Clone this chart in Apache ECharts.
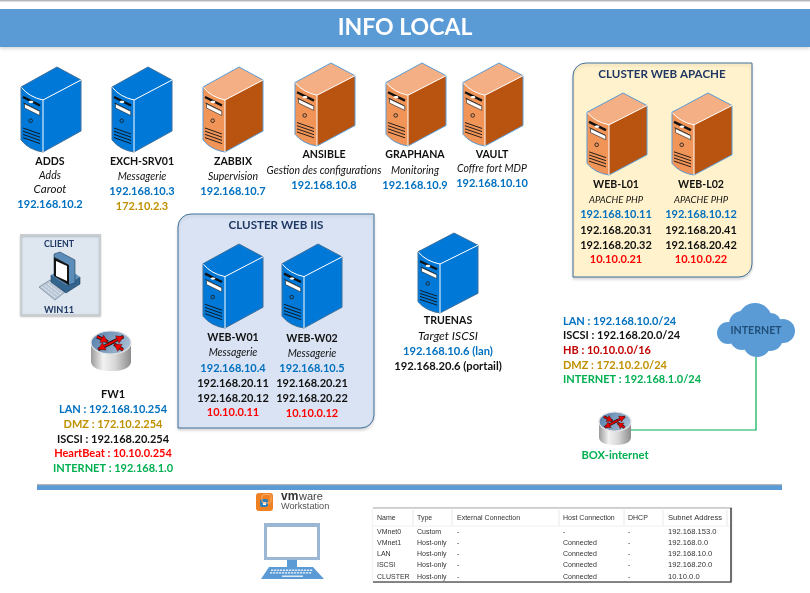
<!DOCTYPE html>
<html><head><meta charset="utf-8">
<style>html,body{margin:0;padding:0;background:#fff}#c{width:810px;height:593px}</style>
<script src="https://cdn.jsdelivr.net/npm/echarts@6/dist/echarts.min.js"></script>
</head><body><div id="c"></div>
<script>
// ---------- content ----------
const titleText = 'INFO LOCAL';
const topBlueNames = ['ADDS', 'EXCH-SRV01'];
const topOrangeNames = ['ZABBIX', 'ANSIBLE', 'GRAPHANA', 'VAULT'];
const topRoles = ['Adds', 'Messagerie', 'Supervision', 'Gestion des configurations', 'Monitoring', 'Coffre fort MDP'];
const topLan = ['192.168.10.2', '192.168.10.3', '192.168.10.7', '192.168.10.8', '192.168.10.9', '192.168.10.10'];
const caText = 'Caroot';
const exchDmz = '172.10.2.3';
const apacheTitle = 'CLUSTER WEB APACHE';
const apacheNames = ['WEB-L01', 'WEB-L02'];
const apacheRole = 'APACHE PHP';
const apacheLan = ['192.168.10.11', '192.168.10.12'];
const apacheIscsiA = ['192.168.20.31', '192.168.20.41'];
const apacheIscsiB = ['192.168.20.32', '192.168.20.42'];
const apacheHb = ['10.10.0.21', '10.10.0.22'];
const iisTitle = 'CLUSTER WEB IIS';
const iisNames = ['WEB-W01', 'WEB-W02'];
const iisRole = 'Messagerie';
const iisLan = ['192.168.10.4', '192.168.10.5'];
const iisIscsiA = ['192.168.20.11', '192.168.20.21'];
const iisIscsiB = ['192.168.20.12', '192.168.20.22'];
const iisHb = ['10.10.0.11', '10.10.0.12'];
const nasLines = ['TRUENAS', 'Target ISCSI', '192.168.10.6 (lan)', '192.168.20.6 (portail)'];
const clientLines = ['CLIENT', 'WIN11'];
const fwLines = ['FW1', 'LAN : 192.168.10.254', 'DMZ : 172.10.2.254', 'ISCSI : 192.168.20.254', 'HeartBeat : 10.10.0.254', 'INTERNET : 192.168.1.0'];
const legendLines = ['LAN : 192.168.10.0/24', 'ISCSI : 192.168.20.0/24', 'HB : 10.10.0.0/16', 'DMZ : 172.10.2.0/24', 'INTERNET : 192.168.1.0/24'];
const cloudText = 'INTERNET';
const boxText = 'BOX-internet';
const vmLogoLines = ['vm', 'ware', 'Workstation'];
const vmHeaders = ['Name', 'Type', 'External Connection', 'Host Connection', 'DHCP', 'Subnet Address'];
const vmNames = ['VMnet0', 'VMnet1', 'LAN', 'ISCSI', 'CLUSTER'];
const vmTypes = ['Custom', 'Host-only', 'Host-only', 'Host-only', 'Host-only'];
const vmExternal = ['-', '-', '-', '-', '-'];
const vmHost = ['-', 'Connected', 'Connected', 'Connected', 'Connected'];
const vmDhcp = ['-', '-', '-', '-', '-'];
const vmSubnets = ['192.168.153.0', '192.168.0.0', '192.168.10.0', '192.168.20.0', '10.10.0.0'];

// ---------- layout ----------
const C = {blue:'#0070C0', gold:'#BF9000', red:'#FF0000', dark:'#C00000', green:'#00B050', navy:'#1F3864', black:'#111', white:'#fff', grey:'#333'};
const F = 'Lato, Carlito, sans-serif';
const labels = [];
function put(text, x, y, color, o) {
  o = o || {};
  labels.push({text, x, y, color: color || C.black, size: o.size || 11, weight: o.weight || 'bold', italic: !!o.italic, align: o.align || 'center', family: o.family || F});
}
const nm = {size: 10.6};
const it = {italic: true, weight: 'normal', size: 10.5};

put(titleText, 405, 28, C.white, {size: 23});

const topX = [50, 142, 233, 324, 415, 492];
const topNameY = [162, 162, 162, 155, 155, 155];
const topRoleY = [175.5, 176.5, 176.5, 171, 171, 169];
const topLanY = [204, 191, 191, 185, 185, 183];
topBlueNames.concat(topOrangeNames).forEach((n, i) => {
  put(n, topX[i], topNameY[i], C.black, nm);
  put(topRoles[i], topX[i], topRoleY[i], C.black, it);
  put(topLan[i], topX[i], topLanY[i], C.blue);
});
put(caText, 50, 189, C.black, {italic: true, weight: 'normal', size: 11.6});
put(exchDmz, 142, 206, C.gold);

put(apacheTitle, 662, 74, C.navy, {size: 11.6});
[616, 701].forEach((x, i) => {
  put(apacheNames[i], x, 185, C.black, nm);
  put(apacheRole, x, 200, C.black, {italic: true, weight: 'normal', size: 9.5});
  put(apacheLan[i], x, 214, C.blue);
  put(apacheIscsiA[i], x, 230, C.black);
  put(apacheIscsiB[i], x, 245, C.black);
  put(apacheHb[i], x, 259, C.red);
});
put(iisTitle, 276, 225, C.navy, {size: 11.6});
[233, 312].forEach((x, i) => {
  const d = i;
  put(iisNames[i], x, 338 + d, C.black, nm);
  put(iisRole, x, 353 + d, C.black, it);
  put(iisLan[i], x, 368, C.blue);
  put(iisIscsiA[i], x, 383, C.black);
  put(iisIscsiB[i], x, 398, C.black);
  put(iisHb[i], x, 412 + d, C.red);
});
put(nasLines[0], 448, 321, C.black, nm);
put(nasLines[1], 448, 336, C.black, Object.assign({}, it, {size: 12}));
put(nasLines[2], 448, 351, C.blue, {size: 11.2});
put(nasLines[3], 448, 366, C.black, {size: 11.2});

put(clientLines[0], 59, 244, C.navy, {size: 8.8});
put(clientLines[1], 59, 310, C.navy, {size: 9.2});

const fwColors = [C.black, C.blue, C.gold, C.black, C.red, C.green];
const fwY = [394, 409, 424, 439, 453, 468];
fwLines.forEach((t, i) => put(t, 113, fwY[i], fwColors[i]));

const legendColors = [C.blue, C.black, C.dark, C.gold, C.green];
const legendY = [321, 335, 350, 365, 379];
legendLines.forEach((t, i) => put(t, 563, legendY[i], legendColors[i], {align: 'left'}));

put(cloudText, 756, 331, '#1F4E79', {size: 10.6});
put(boxText, 615, 455, C.green, {size: 11.2});

put(vmLogoLines[0], 281, 497, '#333', {align: 'left', size: 12, family: 'Liberation Sans'});
put(vmLogoLines[1], 299, 497, '#444', {align: 'left', size: 11, weight: 'normal', family: 'Liberation Sans'});
put(vmLogoLines[2], 281, 506, '#555', {align: 'left', size: 9.2, weight: 'normal', family: 'Liberation Sans'});

const colX = [377, 417, 457, 563, 628, 668];
const rowY = [532, 543, 554, 565, 577];
const tbl = {align: 'left', size: 7, weight: 'normal', family: 'Liberation Sans'};
const tblWide = Object.assign({}, tbl, {size: 7.6});
vmHeaders.forEach((t, i) => put(t, colX[i], 518, C.grey, i === 5 ? tblWide : tbl));
[vmNames, vmTypes, vmExternal, vmHost, vmDhcp, vmSubnets].forEach((col, c) => {
  col.forEach((t, r) => put(t, colX[c], rowY[r], C.grey, c === 5 ? tblWide : tbl));
});

// server icons: left, top, scale-y, palette
const PAL = {
  b: {top:'#0078D7', front:'#0078D7', side:'#0078D7', edge:'#41719C'},
  o: {top:'#F4AF84', front:'#F09458', side:'#B85410', edge:'#5B9BD5'}
};
const serverX = [21, 112, 203, 295, 386, 463, 587, 672, 203, 282, 418];
const serverY = [67, 67, 67, 63, 63, 63, 93, 93, 244, 244, 233];
const serverH = [85, 85, 85, 83, 83, 83, 82, 82, 84, 84, 80];
const serverP = ['b', 'b', 'o', 'o', 'o', 'o', 'o', 'o', 'b', 'b', 'b'];

const routerX = [91, 599];
const routerY = [331, 412];
const routerW = [40, 32];
const routerH = [40, 33];

// ---------- renderers ----------
function panelsRender(params, api) {
  const pt = (x, y) => api.coord([x, y]);
  const rect = (x0, y0, x1, y1, style, r) => {
    const a = pt(x0, y0), b = pt(x1, y1);
    return {type: 'rect', shape: {x: a[0], y: a[1], width: b[0] - a[0], height: b[1] - a[1], r: r || 0}, style};
  };
  const line = (pts, stroke, w) => ({type: 'polyline', shape: {points: pts.map(p => pt(p[0], p[1]))}, style: {stroke, lineWidth: w, fill: null}});
  const ch = [];
  const sh = {shadowBlur: 3, shadowColor: 'rgba(0,0,0,.15)', shadowOffsetY: 2};
  ch.push(rect(0, 0, 810, 1.5, {fill: '#B4B8BC'}));
  ch.push(rect(0, 9, 810, 47, Object.assign({fill: '#5B9BD5'}, sh)));
  ch.push(rect(573, 63, 752, 277, Object.assign({fill: '#FFF2CC', stroke: '#41719C', lineWidth: 1}, sh), [13, 0, 13, 0]));
  ch.push(rect(178, 214, 374, 428, Object.assign({fill: '#DAE3F3', stroke: '#41719C', lineWidth: 1}, sh), [13, 0, 13, 0]));
  ch.push(rect(21, 235, 100, 315, {fill: '#DEE7F0', stroke: '#C8CDD1', lineWidth: 2, shadowBlur: 2, shadowColor: 'rgba(0,0,0,.2)', shadowOffsetY: 1}));
  // green link
  ch.push(line([[756, 357], [756, 430], [631, 430]], C.green, 1.2));
  // separator
  ch.push(rect(37, 484, 782, 490, {fill: '#5B9BD5'}));
  ch.push(rect(37, 484, 782, 485.3, {fill: '#B0B4B8'}));
  // table frame
  ch.push(rect(373, 508, 732, 582, {fill: '#fff', shadowBlur: 2, shadowColor: 'rgba(0,0,0,.15)'}));
  ch.push(line([[373, 508], [732, 508]], '#A9A9A9', 1));
  ch.push(line([[731, 508], [731, 582], [373, 582]], '#111', 1.2));
  ch.push(line([[373, 526], [730, 526]], '#F0F0F0', 1));
  [413, 452, 559, 624, 663, 727].forEach(x => ch.push(line([[x, 510], [x, 526]], '#E8E8E8', 1)));
  // cloud
  [[728, 333, 11], [742, 324, 13], [755, 320, 17], [771, 323, 10], [783, 331, 12], [770, 338, 13], [757, 343, 14], [742, 338, 12]].forEach(c => {
    const p = pt(c[0], c[1]);
    ch.push({type: 'circle', shape: {cx: p[0], cy: p[1], r: c[2]}, style: {fill: '#5B9BD5'}});
  });
  // vmware logo
  ch.push(rect(256, 493, 273, 511, {fill: '#F08122'}, 3));
  ch.push(rect(260, 499, 268, 507, {fill: '#2C7FB8'}, 2));
  ch.push(rect(263, 502, 266, 505, {fill: '#fff'}));
  ch.push(rect(262, 494.5, 271, 503, {stroke: '#F8B06C', lineWidth: 1, fill: null}, 2));
  // host computer
  ch.push(rect(264, 523, 320, 560, {fill: '#9AB8D3'}));
  ch.push(rect(267, 527, 317, 557, {fill: '#fff'}));
  ch.push(rect(287, 560, 297, 567, {fill: '#5B9BD5'}));
  const kb = [[269, 567], [313, 567], [324, 579], [261, 579]].map(p => pt(p[0], p[1]));
  ch.push({type: 'polygon', shape: {points: kb}, style: {fill: '#5B9BD5'}});
  for (let r = 0; r < 2; r++) {
    for (let k = 0; k < 14; k++) {
      const a = pt(271 + k * 3 - r, 569.5 + r * 2.6);
      ch.push({type: 'rect', shape: {x: a[0], y: a[1], width: 2.2, height: 1.5}, style: {fill: '#DCE9F5'}});
    }
  }
  ch.push(rect(282, 575.5, 303, 577, {fill: '#DCE9F5'}));
  // client workstation
  const o = (x, y) => pt(30 + x, 245 + y);
  const poly = (pts, fill, stroke) => ({type: 'polygon', shape: {points: pts.map(p => o(p[0], p[1]))}, style: {fill, stroke: stroke || null, lineWidth: 0.6}});
  ch.push(poly([[9, 42], [20, 35], [35, 47], [25, 55]], '#B9C7D6', '#5A7188'));
  for (let r = 0; r < 3; r++) {
    ch.push({type: 'line', shape: {x1: o(12 + r * 3, 42 + r * -1.5)[0], y1: o(12 + r * 3, 42 - r * 1.5)[1], x2: o(25 + r * 3, 52 - r * 1.5)[0], y2: o(25 + r * 3, 52 - r * 1.5)[1]}, style: {stroke: '#F2F5F8', lineWidth: 0.9, lineDash: [1.2, 0.7]}});
  }
  ch.push(poly([[21, 30], [36, 40], [50, 32], [50, 39], [36, 48], [21, 37]], '#34658F', '#1C3D5A'));
  ch.push(poly([[21, 30], [36, 22], [50, 32], [36, 40]], '#5F93BF'));
  ch.push(poly([[24, 9], [30, 7], [45, 15], [45, 38], [38, 40], [24, 31]], '#5B8DB8', '#1C3D5A'));
  ch.push(poly([[24, 12], [39, 20], [39, 40], [24, 31]], '#141414'));
  ch.push(poly([[26, 16], [37, 21], [37, 36], [26, 31]], '#FFFFFF'));
  return {type: 'group', children: ch};
}

function serverRender(params, api) {
  const i = api.value(0);
  const L = serverX[i], T = serverY[i], sy = serverH[i] / 85, sx = 1;
  const pal = PAL[serverP[i]];
  const P = (x, y) => { const c = api.coord([L + x * sx, T + y * sy]); return c[0] + ' ' + c[1]; };
  const Q = (x, y) => api.coord([L + x * sx, T + y * sy]);
  const path = (d, style) => ({type: 'path', shape: {pathData: d}, style});
  const stroke = (pts, c, w) => ({type: 'polyline', shape: {points: pts.map(p => Q(p[0], p[1]))}, style: {stroke: c, lineWidth: w, fill: null}});
  const ch = [
    path(`M${P(0, 20)} L${P(36, 0)} L${P(60, 13)} L${P(22, 33)} Q${P(8, 30)} ${P(0, 20)} Z`, {fill: pal.top}),
    path(`M${P(60, 13)} L${P(60, 64)} L${P(22, 85)} L${P(22, 33)} Z`, {fill: pal.side}),
    path(`M${P(0, 20)} Q${P(8, 30)} ${P(22, 33)} L${P(22, 85)} Q${P(8, 83)} ${P(0, 73)} Z`, {fill: pal.front}),
    path(`M${P(0, 20)} L${P(36, 0)} L${P(60, 13)} L${P(60, 64)} L${P(22, 85)} Q${P(8, 83)} ${P(0, 73)} Z`, {fill: null, stroke: pal.edge, lineWidth: 1}),
    path(`M${P(0.5, 20.5)} Q${P(8, 30)} ${P(22, 33)} L${P(60, 13)} M${P(22, 33)} L${P(22, 85)}`, {fill: null, stroke: '#fff', lineWidth: 1}),
    stroke([[2, 30], [19, 38.5]], '#111', 2.4),
    stroke([[2.5, 36], [18.5, 44]], '#111', 0.9),
    path(`M${P(3.5, 36.8)} L${P(18.7, 44.3)} L${P(18.7, 48.5)} L${P(3.5, 41)} Z`, {fill: '#fff', stroke: '#222', lineWidth: 0.6})
  ];
  const e = Q(10, 35);
  ch.push({type: 'ellipse', shape: {cx: e[0], cy: e[1], rx: 2.4, ry: 1.2}, style: {fill: '#fff'}});
  const c = Q(9.7, 53.7);
  ch.push({type: 'circle', shape: {cx: c[0], cy: c[1], r: 1.8}, style: {fill: pal.front, stroke: '#222', lineWidth: 0.9}});
  for (let v = 0; v < 4; v++) ch.push(stroke([[2, 61 + v * 3.2], [19, 67 + v * 3.2]], '#111', 0.9));
  return {type: 'group', children: ch};
}

function routerRender(params, api) {
  const i = api.value(0);
  const x = routerX[i], y = routerY[i], w = routerW[i], h = routerH[i];
  const k = 0.29;
  const c = (u, v) => api.coord([x + u * w, y + v * h]);
  const s = (u, v) => { const p = c(u, v); return p[0] + ' ' + p[1]; };
  const center = c(0.5, k);
  const rx = w / 2, ry = h * k;
  const body = {type: 'path', shape: {pathData: `M${s(0, k)} L${s(0, 0.78)} Q${s(0.04, 1)} ${s(0.5, 1)} Q${s(0.96, 1)} ${s(1, 0.78)} L${s(1, k)} Z`},
    style: {fill: {type: 'linear', x: 0, y: 0, x2: 1, y2: 0, colorStops: [{offset: 0, color: '#9A9A9A'}, {offset: 0.3, color: '#F2F2F2'}, {offset: 0.6, color: '#D8D8D8'}, {offset: 1, color: '#8C8C8C'}]}}};
  const top = {type: 'ellipse', shape: {cx: center[0], cy: center[1], rx, ry}, style: {
    fill: {type: 'linear', x: 0, y: 0, x2: 1, y2: 1, colorStops: [{offset: 0, color: '#4E7AA8'}, {offset: 1, color: '#B5C8DB'}]}, stroke: '#E4E4E4', lineWidth: 1.2}};
  const ch = [body, top];
  const arrow = (u1, v1, u2, v2) => {
    const a = c(u1, v1), b = c(u2, v2);
    const ang = Math.atan2(b[1] - a[1], b[0] - a[0]), l = w * 0.2;
    const wing = d => [b[0] - l * Math.cos(ang + d), b[1] - l * Math.sin(ang + d)];
    return [
      {type: 'line', shape: {x1: a[0], y1: a[1], x2: b[0], y2: b[1]}, style: {stroke: '#111', lineWidth: w * 0.085}},
      {type: 'line', shape: {x1: a[0], y1: a[1], x2: b[0], y2: b[1]}, style: {stroke: '#EE0000', lineWidth: w * 0.05}},
      {type: 'polygon', shape: {points: [b, wing(0.55), wing(-0.55)]}, style: {fill: '#EE0000', stroke: '#222', lineWidth: 0.4}}
    ];
  };
  ch.push.apply(ch, arrow(0.42, 0.33, 0.81, 0.14));
  ch.push.apply(ch, arrow(0.58, 0.26, 0.18, 0.46));
  ch.push.apply(ch, arrow(0.15, 0.14, 0.42, 0.27));
  ch.push.apply(ch, arrow(0.8, 0.47, 0.58, 0.33));
  return {type: 'group', children: ch};
}

function textRender(params, api) {
  const l = labels[api.value(0)];
  const p = api.coord([l.x, l.y]);
  return {type: 'text', style: {
    text: l.text, x: p[0], y: p[1], fill: l.color,
    font: `${l.italic ? 'italic ' : ''}${l.weight} ${l.size}px ${l.family}`,
    align: l.align, verticalAlign: 'middle', textAlign: l.align, textVerticalAlign: 'middle'
  }};
}

const chart = echarts.init(document.getElementById('c'), null, {renderer: 'canvas'});
chart.setOption({
  animation: false,
  backgroundColor: '#fff',
  grid: {left: 0, right: 0, top: 0, bottom: 0, containLabel: false},
  xAxis: {type: 'value', min: 0, max: 810, show: false},
  yAxis: {type: 'value', min: 0, max: 593, inverse: true, show: false},
  tooltip: {show: false},
  series: [
    {type: 'custom', name: 'panels', clip: false, z: 1, silent: true, renderItem: panelsRender, data: [[0]], encode: {x: 0}},
    {type: 'custom', name: 'servers', clip: false, z: 2, silent: true, renderItem: serverRender, data: serverX.map((_, i) => [i]), encode: {x: 0}},
    {type: 'custom', name: 'routers', clip: false, z: 2, silent: true, renderItem: routerRender, data: routerX.map((_, i) => [i]), encode: {x: 0}},
    {type: 'custom', name: 'labels', clip: false, z: 3, silent: true, renderItem: textRender, data: labels.map((_, i) => [i]), encode: {x: 0}}
  ]
});
</script></body></html>
